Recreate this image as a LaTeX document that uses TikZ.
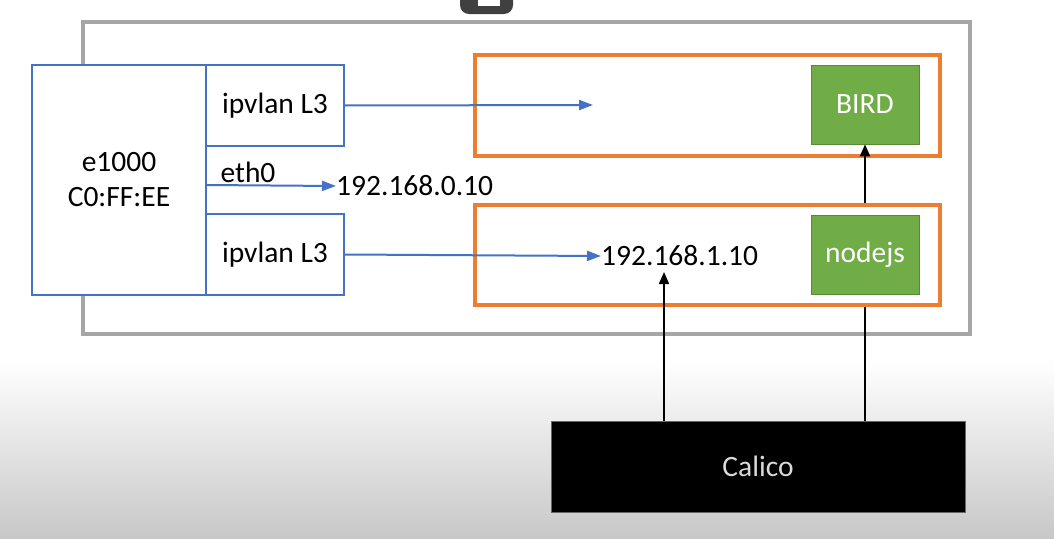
\documentclass[tikz,border=0pt]{standalone}
\usepackage{fontspec}
\setmainfont{Carlito}
\usetikzlibrary{arrows.meta}
\definecolor{ifblue}{RGB}{68,114,196}
\definecolor{podorange}{RGB}{237,125,49}
\definecolor{procgreen}{RGB}{112,173,71}
\definecolor{hostgrey}{RGB}{166,166,166}
\begin{document}
\begin{tikzpicture}[x=1pt,y=-1pt, font=\fontsize{29.5}{33}\selectfont,
    iface/.style={draw=ifblue, line width=1.2pt, fill=white, inner sep=0pt},
    pod/.style={draw=podorange, line width=4pt, inner sep=0pt},
    proc/.style={fill=procgreen, draw=procgreen!80!black, line width=0.6pt, text=white, inner sep=0pt,
      minimum width=108pt, minimum height=79pt},
    blueflow/.style={draw=ifblue, line width=2pt, -{Triangle[length=14pt,width=10pt]}},
    ctrl/.style={draw=black, line width=2pt},
    ctrlflow/.style={ctrl, -{Triangle[length=12pt,width=10pt]}}]

    % background
    \useasboundingbox (0,0) rectangle (1054,538);
    \fill[white] (0,0) rectangle (1054,538);
    \shade[top color=white, bottom color={rgb,255:red,200;green,200;blue,200}] (0,360) rectangle (1054,538);
    \fill[black!75, rounded corners=9pt] (460,-20) rectangle (513,14);
    \fill[white] (478,0) rectangle (500,6);

    % host
    \node[draw=hostgrey, line width=4pt, minimum width=887pt, minimum height=312pt] (host) at (526.5,178) {};

    % pods
    \node[pod, minimum width=465pt, minimum height=101pt] (pod1) at (707.5,105.5) {};
    \node[pod, minimum width=465pt, minimum height=100pt] (pod2) at (707.5,255) {};
    \node[proc] (bird) at (865,104.5) {BIRD};
    \node[proc] (nodejs) at (865,254.5) {nodejs};
    \node[anchor=west, inner sep=0pt] (ip1) at (601,256) {192.168.1.10};

    % nic and interfaces
    \node[iface, minimum width=174pt, minimum height=230pt, align=center] (nic) at (119,180)
      {e1000\\[2pt]C0:FF:EE};
    \node[iface, minimum width=138pt, minimum height=81pt] (vlan1) at (275,105.5) {ipvlan L3};
    \node[iface, minimum width=138pt, minimum height=81pt] (vlan2) at (275,254.5) {ipvlan L3};
    \node[inner sep=0pt] (eth) at (248,172) {eth0};
    \node[anchor=west, inner sep=0pt] (ip0) at (336,186) {192.168.0.10};
    \coordinate (ethout) at (206,185);
    \coordinate (vlanend) at (593,105);

    % calico
    \node[fill=black, draw=black!60, line width=0.8pt, text=black!15, minimum width=414pt,
      minimum height=91pt] (calico) at (758,466.5) {Calico};
    \coordinate (ipin) at (664,272);

    \draw[blueflow] (vlan1.east) -- (vlanend);
    \draw[blueflow] (ethout) -- (ip0.west);
    \draw[blueflow] (vlan2.east) -- (ip1.west);
    \draw[ctrlflow] (calico.north -| ipin) -- (ipin);
    \draw[ctrl] (calico.north -| nodejs) -- (pod2.south -| nodejs);
    \draw[ctrlflow] (pod2.north -| bird) -- (bird.south);
  \end{tikzpicture}
\end{document}
